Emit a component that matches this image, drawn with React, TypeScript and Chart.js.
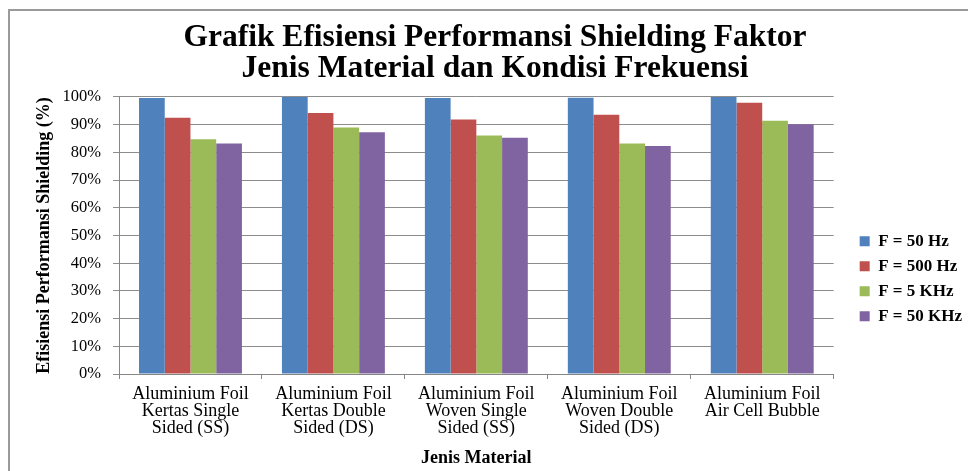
import React, { useEffect, useRef } from "react";
import { Chart, registerables } from "chart.js";

Chart.register(...registerables);

const categories: string[][] = [
  ["Aluminium Foil", "Kertas Single", "Sided (SS)"],
  ["Aluminium Foil", "Kertas Double", "Sided (DS)"],
  ["Aluminium Foil", "Woven Single", "Sided (SS)"],
  ["Aluminium Foil", "Woven Double", "Sided (DS)"],
  ["Aluminium Foil", "Air Cell Bubble"],
];

const seriesNames = ["F = 50 Hz", "F = 500 Hz", "F = 5 KHz", "F = 50 KHz"];
const seriesColors = ["#4F81BD", "#C0504D", "#9BBB59", "#8064A2"];

const f50Hz = [99.6, 100, 99.6, 99.7, 100];
const f500Hz = [92.5, 94.2, 91.9, 93.6, 97.9];
const f5KHz = [84.7, 89.0, 86.1, 83.2, 91.4];
const f50KHz = [83.2, 87.3, 85.3, 82.3, 90.2];

const titleLines = [
  "Grafik Efisiensi Performansi Shielding Faktor",
  "Jenis Material dan Kondisi Frekuensi",
];
const xTitle = "Jenis Material";
const yTitle = "Efisiensi Performansi Shielding (%)";

const FONT = "'Liberation Serif', 'Times New Roman', Times, serif";

export default function App() {
  const ref = useRef<HTMLCanvasElement>(null);

  useEffect(() => {
    const canvas = ref.current;
    if (!canvas) return;
    Chart.defaults.font.family = FONT;
    Chart.defaults.color = "#000";
    const values = [f50Hz, f500Hz, f5KHz, f50KHz];

    const chart = new Chart(canvas, {
      type: "bar",
      data: {
        labels: categories,
        datasets: seriesNames.map((name, i) => ({
          label: name,
          data: values[i],
          backgroundColor: seriesColors[i],
          borderWidth: 0,
          categoryPercentage: 0.72,
          barPercentage: 1,
        })),
      },
      options: {
        responsive: false,
        animation: false,
        devicePixelRatio: 1,
        layout: { padding: 0 },
        plugins: {
          title: {
            display: true,
            text: titleLines,
            color: "#000",
            font: { size: 31.5, weight: "bold", lineHeight: 0.96 },
            padding: { top: 23, bottom: 13.5 },
          },
          legend: {
            position: "right",
            align: "center",
            title: {
              display: true,
              text: "",
              padding: { top: 72, bottom: 0 },
              font: { size: 12, lineHeight: 1.2 },
            },
            labels: {
              boxWidth: 10,
              boxHeight: 10,
              padding: 8,
              color: "#000",
              font: { size: 17, weight: "bold", lineHeight: 1 },
            },
          },
          tooltip: { enabled: false },
        },
        scales: {
          x: {
            grid: {
              display: true,
              drawOnChartArea: false,
              drawTicks: true,
              tickLength: 5,
              color: "#868686",
              offset: true,
            },
            border: { display: true, color: "#868686", width: 1 },
            ticks: {
              color: "#000",
              font: { size: 18, lineHeight: 0.95 },
              padding: 7,
              maxRotation: 0,
              minRotation: 0,
              autoSkip: false,
            },
            title: {
              display: true,
              text: xTitle,
              color: "#000",
              font: { size: 18, weight: "bold", lineHeight: 1.2 },
              padding: { top: 4, bottom: 1.5 },
            },
            afterFit: (s: any) => {
              s.height = 97;
            },
          },
          y: {
            position: "left",
            min: 0,
            max: 100,
            ticks: {
              stepSize: 10,
              color: "#000",
              font: { size: 16.5 },
              padding: 12,
              callback: (v: any) => v + "%",
            },
            grid: { color: "#8c8c8c", tickLength: 6, lineWidth: 1 },
            border: { color: "#868686", width: 1 },
            title: {
              display: true,
              text: yTitle,
              color: "#000",
              font: { size: 18, weight: "bold", lineHeight: 1.2 },
              padding: { top: 34, bottom: 0 },
            },
            afterFit: (s: any) => {
              s.width = 119;
            },
          },
          gapRight: {
            type: "linear",
            position: "right",
            display: true,
            grid: { display: false, drawTicks: false },
            border: { display: false },
            ticks: { display: false },
            afterFit: (s: any) => {
              s.width = 18;
            },
          },
          farRight: {
            type: "linear",
            position: "right",
            weight: 2000,
            display: true,
            grid: { display: false, drawTicks: false },
            border: { display: false },
            ticks: { display: false },
            afterFit: (s: any) => {
              s.width = 18;
            },
          },
        },
      } as any,
    });

    return () => chart.destroy();
  }, []);

  return (
    <div
      style={{
        position: "fixed",
        left: 0,
        top: 0,
        width: 968,
        height: 471,
        overflow: "hidden",
        background: "#fff",
      }}
    >
      <div
        style={{
          position: "absolute",
          left: 8,
          top: 9,
          width: 2000,
          height: 2000,
          borderLeft: "2px solid #9a9a9a",
          borderTop: "2px solid #9a9a9a",
        }}
      />
      <canvas
        ref={ref}
        width={990}
        height={471}
        style={{ position: "absolute", left: 0, top: 0, width: 990, height: 471 }}
      />
    </div>
  );
}
